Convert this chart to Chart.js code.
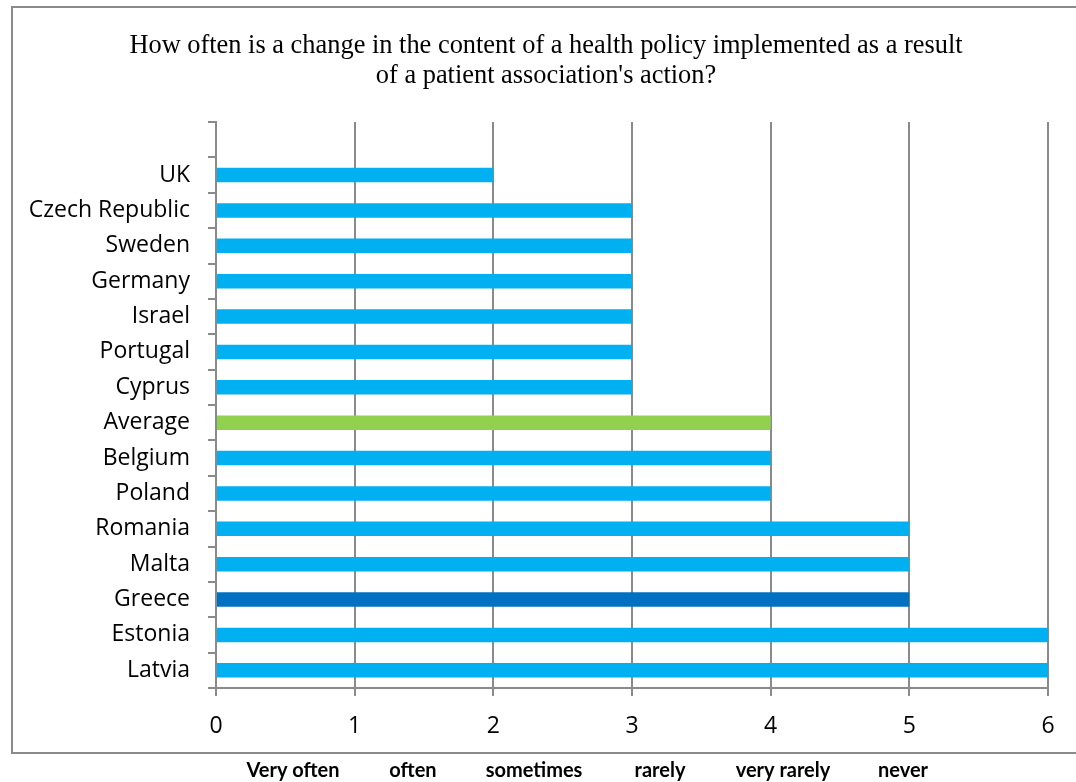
<!DOCTYPE html>
<html>
<head>
<meta charset="utf-8">
<title>Health policy change frequency</title>
<script src="https://cdn.jsdelivr.net/npm/chart.js@4/dist/chart.umd.min.js"></script>
<style>
  html, body { margin: 0; padding: 0; background: #fff; }
  #policyChart { display: block; }
</style>
</head>
<body>
<canvas id="policyChart" width="1076" height="782"></canvas>
<script>
// countries top to bottom, first slot left empty as in the survey sheet
const countries = ['', 'UK', 'Czech Republic', 'Sweden', 'Germany', 'Israel', 'Portugal', 'Cyprus',
  'Average', 'Belgium', 'Poland', 'Romania', 'Malta', 'Greece', 'Estonia', 'Latvia'];
const scores = [null, 2, 3, 3, 3, 3, 3, 3, 4, 4, 4, 5, 5, 5, 6, 6];
const xTicks = [0, 1, 2, 3, 4, 5, 6];
const answerWords = ['Very often', 'often', 'sometimes', 'rarely', 'very rarely', 'never'];
const titleLines = [
  'How often is a change in the content of a health policy implemented as a result',
  "of a patient association's action?"
];

const barColors = countries.map(c => c === 'Average' ? '#92D050' : (c === 'Greece' ? '#0070C0' : '#00B0F0'));
const labelFont = '"Open Sans", Lato, sans-serif';

// frame, title and answer words under the frame
const decorations = {
  id: 'decorations',
  beforeDraw(chart) {
    const ctx = chart.ctx;
    ctx.save();
    ctx.fillStyle = '#fff';
    ctx.fillRect(0, 0, chart.width, chart.height);
    ctx.strokeStyle = '#8a8a8a';
    ctx.lineWidth = 2;
    ctx.strokeRect(12, 7, 1080, 746);
    ctx.restore();
  },
  afterDraw(chart) {
    const ctx = chart.ctx;
    ctx.save();
    ctx.fillStyle = '#000';
    ctx.textAlign = 'center';
    ctx.textBaseline = 'middle';
    ctx.font = '26.4px "Liberation Serif", "Times New Roman", serif';
    titleLines.forEach((line, i) => ctx.fillText(line, 546, 46 + i * 30));

    ctx.font = 'bold 20px Lato, sans-serif';
    const wordX = [293, 413, 534, 660, 783, 903];
    answerWords.forEach((w, i) => ctx.fillText(w, wordX[i], 771));
    ctx.restore();
  }
};

new Chart(document.getElementById('policyChart'), {
  type: 'bar',
  data: {
    labels: countries,
    datasets: [{
      data: scores,
      backgroundColor: barColors,
      barPercentage: 0.41,
      categoryPercentage: 1
    }]
  },
  options: {
    indexAxis: 'y',
    responsive: false,
    animation: false,
    layout: { padding: { top: 122, right: 28, bottom: 44, left: 0 } },
    plugins: {
      legend: { display: false },
      tooltip: { enabled: false }
    },
    scales: {
      x: {
        min: 0,
        max: 6,
        afterFit(scale) { scale.height = 50; },
        afterBuildTicks(scale) { scale.ticks = xTicks.map(v => ({ value: v })); },
        grid: { color: '#8a8a8a', lineWidth: 2, tickLength: 8 },
        border: { color: '#8a8a8a', width: 2 },
        ticks: {
          color: '#000',
          padding: 17,
          font: { family: labelFont, size: 23 }
        }
      },
      y: {
        afterFit(scale) { scale.width = 216; },
        grid: { offset: true, drawOnChartArea: false, color: '#8a8a8a', lineWidth: 2, tickLength: 8 },
        border: { color: '#8a8a8a', width: 2 },
        ticks: {
          color: '#000',
          padding: 18,
          font: { family: labelFont, size: 23 }
        }
      }
    }
  },
  plugins: [decorations]
});
</script>
</body>
</html>
